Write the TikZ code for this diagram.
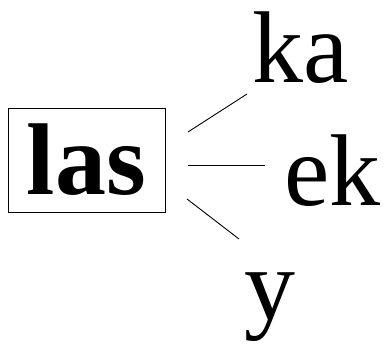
\documentclass[tikz,border=0pt]{standalone}
\usepackage{fontspec}
\setmainfont{Liberation Serif}
\usetikzlibrary{positioning}
\tikzset{
  morph/.style={anchor=base west, inner sep=0pt, font=\fontsize{102}{102}\selectfont},
  stem/.style={draw, line width=0.9pt, inner sep=0pt, minimum width=157pt, minimum height=104pt,
    font=\fontsize{102}{102}\selectfont\bfseries},
  branch/.style={line width=0.9pt}
}
\begin{document}
\begin{tikzpicture}[x=1pt, y=1pt]
      \useasboundingbox (0,0) rectangle (384,345);
      \node[stem] (las) at (86.5,185) {las};
      \node[morph] (ka) at (252,262) {ka};
      \node[morph] (ek) at (284,139) {ek};
      \node[morph] (y) at (244,25) {y};
      % free ends of the branches
      \coordinate (ka-s) at (188,213);
      \coordinate (ka-e) at (247,251);
      \coordinate (ek-s) at (188,180);
      \coordinate (ek-e) at (265,180);
      \coordinate (y-s) at (187,146);
      \coordinate (y-e) at (239,106);
      \draw[branch] (ka-s) -- (ka-e);
      \draw[branch] (ek-s) -- (ek-e);
      \draw[branch] (y-s) -- (y-e);
    \end{tikzpicture}
\end{document}
